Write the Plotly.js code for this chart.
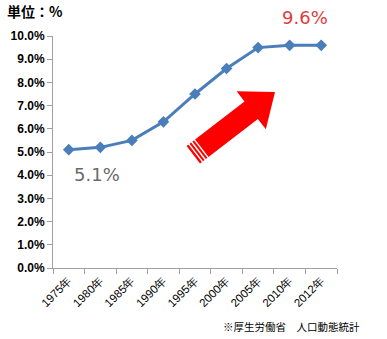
<!DOCTYPE html>
<html><head><meta charset="utf-8">
<script src="https://cdn.plot.ly/plotly-3.0.1.min.js"></script>
<style>body{margin:0;background:#fff}#c{width:387px;height:339px}</style>
</head><body><div id="c"></div>
<script>
const years = ['1975年','1980年','1985年','1990年','1995年','2000年','2005年','2010年','2012年'];
const rates = [5.1, 5.2, 5.5, 6.3, 7.5, 8.6, 9.5, 9.6, 9.6];
const unitLabel = '単位：%';
const firstLabel = '5.1%';
const lastLabel = '9.6%';
const sourceLabel = '※厚生労働省　人口動態統計';

const W = 387, H = 339, L = 53, R = 50, T = 36, B = 71;
const pw = W - L - R, ph = H - T - B;
function px(x){ return (x - L) / pw; }
function py(y){ return (H - B - y) / ph; }
function pathOf(pts){ return 'M' + pts.map(p => px(p[0]).toFixed(4) + ',' + py(p[1]).toFixed(4)).join(' L') + ' Z'; }

// arrow geometry (pixels)
const tip = [275, 92], ux = 0.793, uy = -0.609, nx = 0.609, ny = 0.793;
function pt(base, a, b){ return [base[0] + a*ux + b*nx, base[1] + a*uy + b*ny]; }
const headLen = 30, headHW = 24, bodyHW = 11, totalLen = 103;
const arrowPts = [
  tip,
  pt(tip, -headLen, headHW),
  pt(tip, -headLen, bodyHW),
  pt(tip, -totalLen, bodyHW),
  pt(tip, -totalLen, -bodyHW),
  pt(tip, -headLen, -bodyHW),
  pt(tip, -headLen, -headHW)
];
const shapes = [{type:'path', xref:'paper', yref:'paper', path: pathOf(arrowPts), fillcolor:'#ff0000', line:{width:0}}];
[3, 6.5, 10].forEach(off => {
  const a = pt(tip, -totalLen + off, -bodyHW - 1), b = pt(tip, -totalLen + off, bodyHW + 1);
  shapes.push({type:'line', xref:'paper', yref:'paper', x0:px(a[0]), y0:py(a[1]), x1:px(b[0]), y1:py(b[1]), line:{color:'#ffffff', width:1.5}});
});

const data = [{
  x: years, y: rates, type:'scatter', mode:'lines+markers',
  line:{color:'#4a7ebb', width:3},
  marker:{symbol:'diamond', size:9, color:'#4a7ebb'},
  hoverinfo:'none'
}];

const layout = {
  width: W, height: H,
  margin:{l:L, r:R, t:T, b:B},
  paper_bgcolor:'#ffffff', plot_bgcolor:'#ffffff',
  showlegend:false,
  font:{family:'Liberation Sans, Arial, sans-serif', color:'#000'},
  xaxis:{
    type:'category', showgrid:false, zeroline:false,
    showline:true, linecolor:'#a0a0a0', linewidth:1,
    ticks:'outside', ticklen:5, tickcolor:'#a0a0a0', tickson:'boundaries',
    tickangle:-45, tickfont:{size:11.5, color:'#000'},
    range:[-0.5, 8.5]
  },
  yaxis:{
    range:[0,10], dtick:1, tickformat:'.1f', ticksuffix:'%',
    showgrid:false, zeroline:false,
    showline:true, linecolor:'#a0a0a0', linewidth:1,
    ticks:'outside', ticklen:5, tickcolor:'#a0a0a0',
    tickfont:{size:12, color:'#000', weight:'bold'}
  },
  shapes: shapes,
  annotations:[
    {text:unitLabel, xref:'paper', yref:'paper', x:px(5), y:py(11), xanchor:'left', yanchor:'middle', showarrow:false, font:{size:14, weight:'bold', color:'#000', family:'Noto Sans CJK JP'}},
    {text:lastLabel, xref:'paper', yref:'paper', x:px(305), y:py(18), xanchor:'center', yanchor:'middle', showarrow:false, font:{size:18, color:'#e03c3c', family:'DejaVu Sans'}},
    {text:firstLabel, xref:'paper', yref:'paper', x:px(97), y:py(174), xanchor:'center', yanchor:'middle', showarrow:false, font:{size:18, color:'#6a6a6a', family:'DejaVu Sans'}},
    {text:sourceLabel, xref:'paper', yref:'paper', x:px(362), y:py(326), xanchor:'right', yanchor:'middle', showarrow:false, font:{size:10.5, color:'#000', family:'Noto Sans CJK JP'}}
  ]
};
Plotly.newPlot('c', data, layout, {staticPlot:true, displayModeBar:false});
</script></body></html>
